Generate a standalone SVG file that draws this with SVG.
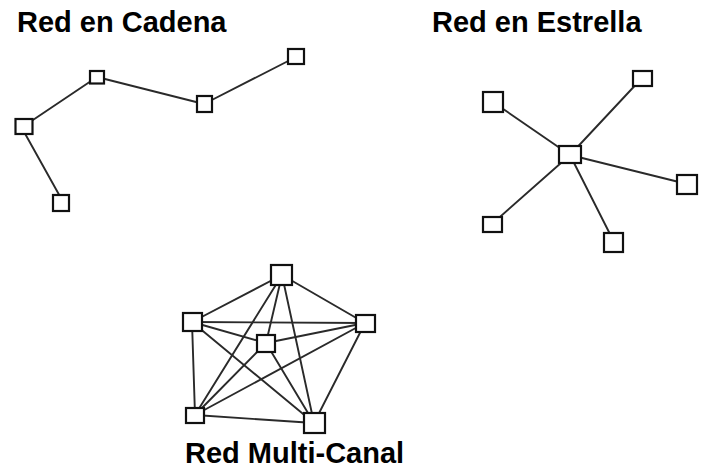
<svg xmlns="http://www.w3.org/2000/svg" width="704" height="468" viewBox="0 0 704 468">
<style>
.t{font-family:"Liberation Sans",Arial,sans-serif;font-weight:bold;font-size:29px;fill:#000}
.n{fill:#fff;stroke:#111;stroke-width:2.2}
.e{stroke:#2a2a2a;stroke-width:1.9;fill:none;stroke-linecap:round}
</style>
<rect width="704" height="468" fill="#fff"/>
<text class="t" x="17" y="32">Red en Cadena</text>
<text class="t" x="432" y="32">Red en Estrella</text>
<text class="t" x="185" y="463">Red Multi-Canal</text>
<g id="connectors">
<line class="e" x1="24" y1="126" x2="97" y2="77"/>
<line class="e" x1="97" y1="77" x2="204" y2="104"/>
<line class="e" x1="204" y1="104" x2="296" y2="57"/>
<line class="e" x1="23" y1="130" x2="62" y2="200"/>
<line class="e" x1="570" y1="155" x2="493" y2="102"/>
<line class="e" x1="570" y1="155" x2="642" y2="78"/>
<line class="e" x1="570" y1="155" x2="687" y2="184"/>
<line class="e" x1="570" y1="155" x2="492" y2="224"/>
<line class="e" x1="570" y1="155" x2="614" y2="242"/>
<line class="e" x1="282" y1="275" x2="192" y2="322"/>
<line class="e" x1="282" y1="275" x2="365" y2="323"/>
<line class="e" x1="282" y1="275" x2="195" y2="415"/>
<line class="e" x1="282" y1="275" x2="314" y2="423"/>
<line class="e" x1="282" y1="275" x2="266" y2="343"/>
<line class="e" x1="192" y1="322" x2="365" y2="323"/>
<line class="e" x1="192" y1="322" x2="195" y2="415"/>
<line class="e" x1="192" y1="322" x2="314" y2="423"/>
<line class="e" x1="192" y1="322" x2="266" y2="343"/>
<line class="e" x1="365" y1="323" x2="195" y2="415"/>
<line class="e" x1="365" y1="323" x2="314" y2="423"/>
<line class="e" x1="365" y1="323" x2="266" y2="343"/>
<line class="e" x1="195" y1="415" x2="314" y2="423"/>
<line class="e" x1="266" y1="343" x2="195" y2="415"/>
<line class="e" x1="266" y1="343" x2="314" y2="423"/>
</g>
<g id="chain-a"><rect class="n" x="15.5" y="119" width="17" height="15"/></g>
<g id="chain-b"><rect class="n" x="90" y="71" width="14" height="12.5"/></g>
<g id="chain-c"><rect class="n" x="197" y="96" width="15" height="16"/></g>
<g id="chain-d"><rect class="n" x="288" y="49" width="16" height="15"/></g>
<g id="chain-e"><rect class="n" x="53" y="195" width="16" height="16"/></g>
<g id="star-center"><rect class="n" x="559" y="146" width="22" height="17"/></g>
<g id="star-tl"><rect class="n" x="483" y="92" width="20" height="20"/></g>
<g id="star-tr"><rect class="n" x="633" y="71" width="19" height="15"/></g>
<g id="star-r"><rect class="n" x="677" y="175" width="20" height="19"/></g>
<g id="star-bl"><rect class="n" x="483" y="217" width="19" height="15"/></g>
<g id="star-b"><rect class="n" x="604" y="233" width="19" height="19"/></g>
<g id="multi-top"><rect class="n" x="271" y="265" width="21" height="20"/></g>
<g id="multi-left"><rect class="n" x="183" y="313" width="19" height="18"/></g>
<g id="multi-right"><rect class="n" x="356" y="315" width="19" height="17"/></g>
<g id="multi-center"><rect class="n" x="257" y="335" width="18" height="17"/></g>
<g id="multi-bl"><rect class="n" x="186" y="408" width="18" height="15"/></g>
<g id="multi-br"><rect class="n" x="304" y="413" width="21" height="20"/></g>
</svg>
